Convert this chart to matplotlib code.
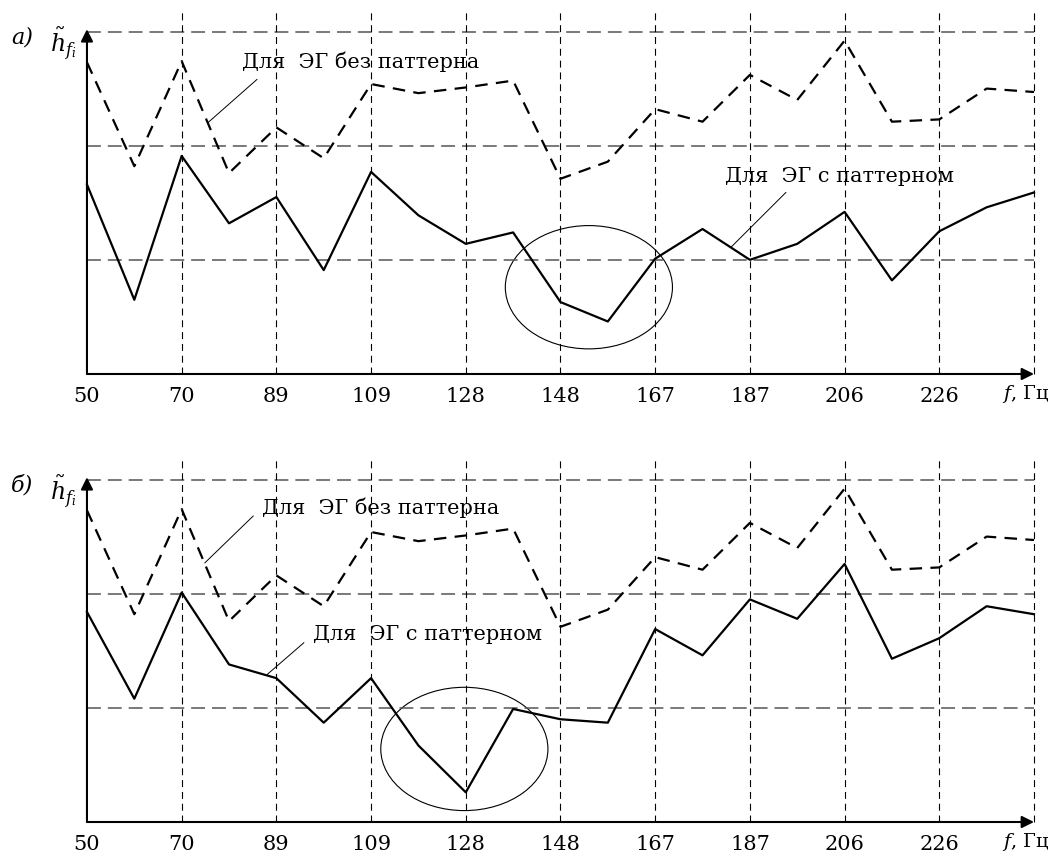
import numpy as np
import matplotlib
matplotlib.use('Agg')
import matplotlib.pyplot as plt
from matplotlib.patches import Ellipse

plt.rcParams['font.family'] = ['DejaVu Serif']
plt.rcParams['mathtext.fontset'] = 'dejavuserif'
plt.rcParams['lines.scale_dashes'] = False

# frequency tick labels (every second measurement point)
tick_labels = ['50', '70', '89', '109', '128', '148', '167', '187', '206', '226']

# normalised spectrum values (21 points)
no_pattern = [2.73, 1.82, 2.74, 1.76, 2.16, 1.89, 2.54, 2.46, 2.51, 2.57,
              1.71, 1.86, 2.32, 2.21, 2.62, 2.40, 2.92, 2.21, 2.23, 2.50, 2.47]
pattern_a = [1.66, 0.65, 1.91, 1.32, 1.55, 0.91, 1.77, 1.39, 1.14, 1.24,
             0.63, 0.46, 1.01, 1.27, 1.00, 1.14, 1.42, 0.82, 1.25, 1.46, 1.59]
pattern_b = [1.84, 1.08, 2.01, 1.38, 1.26, 0.87, 1.26, 0.67, 0.26, 0.99,
             0.90, 0.87, 1.69, 1.46, 1.95, 1.78, 2.26, 1.43, 1.61, 1.89, 1.82]

label_no = 'Для  ЭГ без паттерна'
label_yes = 'Для  ЭГ с паттерном'

fig = plt.figure(figsize=(10.58, 8.54), dpi=100)
ax_a = fig.add_axes([0.0822, 0.5609, 0.8951, 0.4251])
ax_b = fig.add_axes([0.0822, 0.0363, 0.8951, 0.4251])


def draw_panel(ax, pattern, letter, no_txt, no_lead, yes_txt, yes_lead, ell):
    x = np.arange(len(no_pattern))
    ax.set_xlim(0, 20)
    ax.set_ylim(0, 3.18)
    for s in ax.spines.values():
        s.set_visible(False)

    # grid
    ax.hlines([1, 2, 3], 0, 20, colors='#555555', linestyles=(0, (10, 5)), lw=1.1, clip_on=False)
    ax.vlines(x[2::2], 0, 3.18, colors='black', linestyles=(0, (5, 3.5)), lw=0.8, clip_on=False)

    # axes with arrows
    ax.annotate('', xy=(20, 0), xytext=(0, 0),
                arrowprops=dict(arrowstyle='-|>', lw=1.5, color='black',
                                mutation_scale=18, shrinkA=0, shrinkB=0))
    ax.annotate('', xy=(0, 3.02), xytext=(0, 0),
                arrowprops=dict(arrowstyle='-|>', lw=1.5, color='black',
                                mutation_scale=18, shrinkA=0, shrinkB=0))

    # data
    ax.plot(x, no_pattern, color='black', lw=1.6, linestyle=(0, (9, 6)), clip_on=False)
    ax.plot(x, pattern, color='black', lw=1.6, clip_on=False)

    # ellipse
    ax.add_patch(Ellipse(ell, 3.53, 1.08, fill=False, lw=0.8, color='black'))

    # labels with leaders
    ax.text(no_txt[0], no_txt[1], label_no, fontsize=15, ha='center', va='center')
    ax.plot(no_lead[0], no_lead[1], color='black', lw=0.7)
    ax.text(yes_txt[0], yes_txt[1], label_yes, fontsize=15, ha='center', va='center')
    ax.plot(yes_lead[0], yes_lead[1], color='black', lw=0.7)

    ax.set_xticks(x[:19:2])
    ax.set_xticklabels(tick_labels)
    ax.set_yticks([])
    ax.tick_params(axis='x', length=0, pad=9, labelsize=15)

    ax.text(-1.37, 2.96, letter, fontsize=16, style='italic', ha='center', va='center')
    ax.text(-0.5, 2.9, r'$\tilde{h}_{f_i}$', fontsize=17, ha='center', va='center')
    ax.text(19.32, -0.17, r'$f$, Гц', fontsize=14, ha='left', va='center', clip_on=False)


draw_panel(ax_a, pattern_a, 'а)',
           (5.78, 2.74), ([3.59, 2.55], [2.58, 2.20]),
           (15.9, 1.74), ([14.76, 13.6], [1.59, 1.11]),
           (10.6, 0.76))
draw_panel(ax_b, pattern_b, 'б)',
           (6.21, 2.76), ([3.51, 2.49], [2.68, 2.27]),
           (7.2, 1.65), ([4.58, 3.8], [1.57, 1.29]),
           (7.97, 0.64))

fig.savefig('out.png', dpi=100)
